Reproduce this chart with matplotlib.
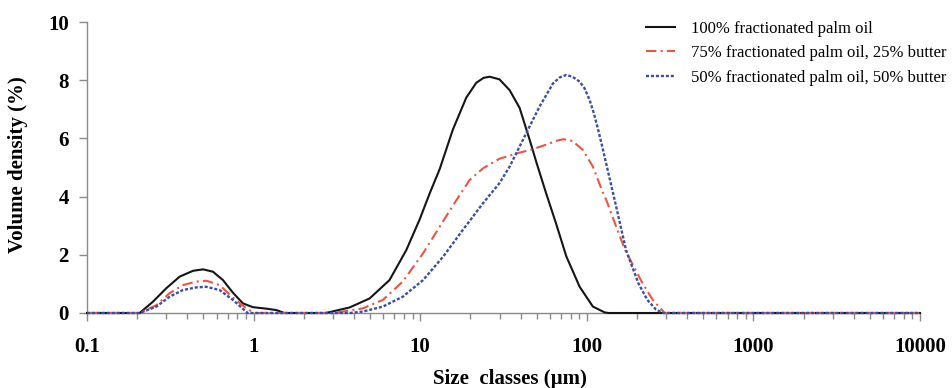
import matplotlib
matplotlib.use("Agg")
import matplotlib.pyplot as plt
from matplotlib.ticker import LogLocator, FixedLocator, FixedFormatter, NullFormatter

plt.rcParams['font.family'] = ['Liberation Serif', 'DejaVu Serif']

# ---- data (size classes in µm, volume density in %) ----
size_black = [0.1, 0.207, 0.249, 0.299, 0.36, 0.433, 0.497, 0.57, 0.655, 0.751, 0.863, 0.99,
              1.19, 1.37, 1.53, 2.7, 2.86, 3.77, 4.97, 6.54, 8.25, 9.9, 11.4, 13.1, 15.7,
              18.9, 21.7, 24.0, 26.1, 29.9, 34.4, 39.5, 45.4, 50.0, 57.1, 65.6, 75.3, 90.6,
              108.8, 128, 135, 10000]
dens_black = [0, 0, 0.39, 0.85, 1.25, 1.45, 1.5, 1.42, 1.13, 0.7, 0.33, 0.2,
              0.15, 0.1, 0, 0, 0.03, 0.19, 0.5, 1.13, 2.16, 3.2, 4.11, 4.95, 6.3,
              7.4, 7.91, 8.08, 8.12, 8.03, 7.66, 7.05, 5.95, 5.15, 4.1, 3.05, 1.95, 0.9,
              0.22, 0.02, 0, 0]

size_red = [0.1, 0.207, 0.261, 0.313, 0.377, 0.453, 0.52, 0.625, 0.751, 0.904, 1.01,
            3.0, 3.43, 4.53, 5.97, 7.86, 10.4, 13.1, 16.5, 19.8, 23.8, 29.9, 39.5, 47.5,
            58, 66, 72, 78, 83, 94.8, 108.8, 124.6, 131, 150, 170, 217, 249, 293, 10000]
dens_red = [0, 0, 0.27, 0.68, 0.96, 1.08, 1.11, 0.96, 0.53, 0.16, 0,
            0, 0.05, 0.16, 0.45, 1.08, 2.05, 2.97, 3.88, 4.57, 4.97, 5.3, 5.51, 5.63,
            5.8, 5.92, 5.97, 5.95, 5.89, 5.6, 5.03, 4.15, 3.88, 2.97, 2.16, 1.0, 0.45, 0, 0]

size_blue = [0.1, 0.207, 0.261, 0.313, 0.377, 0.453, 0.52, 0.625, 0.751, 0.88, 0.92,
             3.8, 4.53, 5.97, 7.86, 10.4, 13.7, 18.0, 23.8, 29.9, 34.4, 43.3, 52, 62.7,
             69, 75.3, 82, 90.6, 97, 104, 110, 117, 124, 147, 172, 204, 231, 260, 287, 10000]
dens_blue = [0, 0, 0.22, 0.56, 0.79, 0.88, 0.9, 0.79, 0.45, 0.1, 0,
             0, 0.05, 0.22, 0.56, 1.13, 1.93, 2.85, 3.77, 4.46, 5.03, 6.18, 7.09, 7.89,
             8.1, 8.18, 8.12, 7.95, 7.72, 7.32, 6.88, 6.3, 5.7, 3.88, 2.16, 1.02, 0.45, 0.12, 0, 0]

labels = ["100% fractionated palm oil",
          "75% fractionated palm oil, 25% butter",
          "50% fractionated palm oil, 50% butter"]

x_ticks = [0.1, 1, 10, 100, 1000, 10000]
x_tick_labels = ["0.1", "1", "10", "100", "1000", "10000"]
y_ticks = [0, 2, 4, 6, 8, 10]

# ---- figure ----
fig = plt.figure(figsize=(9.53, 3.88), dpi=100)
ax = fig.add_axes([87/953, 1-313/388, 833/953, 291/388])

ax.plot(size_black, dens_black, color='#151515', lw=1.5, label=labels[0],
        clip_on=False, zorder=3)
ax.plot(size_red, dens_red, color='#ee5540', lw=1.5, dashes=(5, 2, 1, 2),
        label=labels[1], clip_on=False, zorder=3)
ax.plot(size_blue, dens_blue, color='#3a4ea6', lw=1.7, dashes=(1.3, 0.8),
        label=labels[2], clip_on=False, zorder=3)

ax.set_xscale('log')
ax.set_xlim(0.1, 10000)
ax.set_ylim(0, 10)

ax.xaxis.set_major_locator(FixedLocator(x_ticks))
ax.xaxis.set_major_formatter(FixedFormatter(x_tick_labels))
ax.xaxis.set_minor_locator(LogLocator(base=10, subs=range(2, 10)))
ax.xaxis.set_minor_formatter(NullFormatter())
ax.set_yticks(y_ticks)
ax.set_yticklabels([str(v) for v in y_ticks])

for s in ['top', 'right']:
    ax.spines[s].set_visible(False)
for s in ['left', 'bottom']:
    ax.spines[s].set_color('#8a8a8a')
    ax.spines[s].set_linewidth(1.0)

ax.tick_params(axis='both', which='both', direction='out', color='#8a8a8a', width=1.0)
ax.tick_params(axis='x', which='major', length=6, pad=11, labelsize=15)
ax.tick_params(axis='x', which='minor', length=4)
ax.tick_params(axis='y', which='major', length=6, pad=7, labelsize=15)
for lab in ax.get_xticklabels() + ax.get_yticklabels():
    lab.set_fontweight('bold')

ax.set_xlabel("Size  classes (µm)", fontsize=15, fontweight='bold')
ax.xaxis.set_label_coords(0.508, -0.228)
ax.xaxis.label.set_va('center')
ax.set_ylabel("Volume density (%)", fontsize=15, fontweight='bold')
ax.yaxis.set_label_coords(-0.083, 0.51)
ax.yaxis.label.set_va('center')

leg = ax.legend(loc='upper left', bbox_to_anchor=(646/953, 1-21/388),
                bbox_transform=fig.transFigure, frameon=False, fontsize=12,
                borderpad=0, borderaxespad=0, handlelength=1.75, handletextpad=0.95,
                labelspacing=0.5)

fig.savefig("out.png", dpi=100)
